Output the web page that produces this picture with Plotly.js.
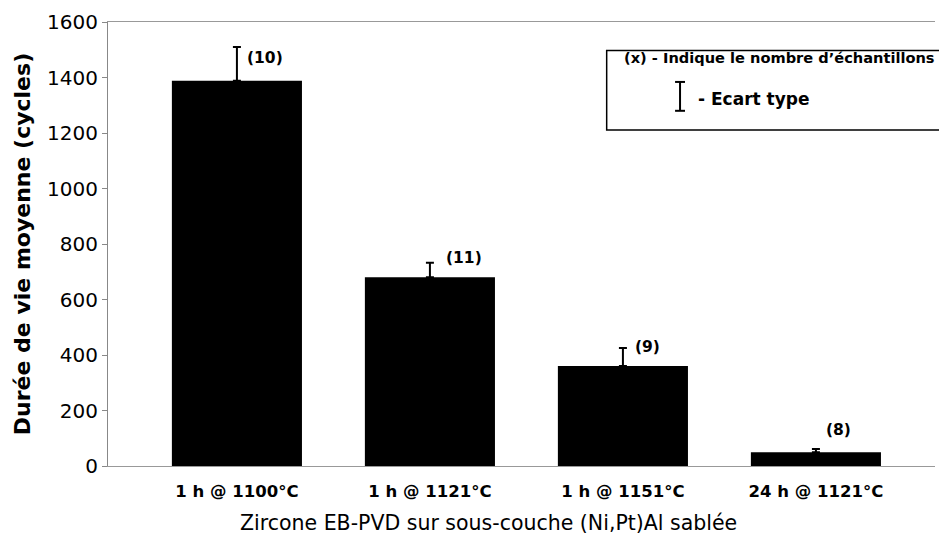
<!DOCTYPE html>
<html><head><meta charset="utf-8">
<script src="https://cdn.plot.ly/plotly-3.0.1.min.js"></script>
<style>html,body{margin:0;padding:0;background:#fff}</style>
</head><body>
<div id="chart" style="width:939px;height:543px"></div>
<script>
const categories = ["1 h @ 1100°C", "1 h @ 1121°C", "1 h @ 1151°C", "24 h @ 1121°C"];
const meanLife = [1388, 680, 360, 50];
const stdDev = [122, 52, 65, 11];
const sampleCounts = ["(10)", "(11)", "(9)", "(8)"];
const xTitle = "Zircone EB-PVD sur sous-couche (Ni,Pt)Al sablée";
const yTitle = "Durée de vie moyenne (cycles)";

const F = "DejaVu Sans, Verdana, sans-serif";
const labelShift = [[28, -11], [34, 5], [25, 1], [23, 19]];

const annotations = categories.map((c, i) => ({
  x: c, y: meanLife[i] + stdDev[i], xref: "x", yref: "y",
  text: "<b>" + sampleCounts[i] + "</b>", showarrow: false,
  xshift: labelShift[i][0], yshift: labelShift[i][1],
  yanchor: "middle", font: {family: F, size: 15.5, color: "#000"}
}));
annotations.push(
  {xref: "paper", yref: "paper", x: 0.621, y: 0.919, xanchor: "left", yanchor: "middle",
   text: "<b>(x) - Indique le nombre d’échantillons</b>", showarrow: false,
   font: {family: F, size: 14.6, color: "#000"}},
  {xref: "paper", yref: "paper", x: 0.711, y: 0.826, xanchor: "left", yanchor: "middle",
   text: "<b>- Ecart type</b>", showarrow: false,
   font: {family: F, size: 17, color: "#000"}},
  {xref: "paper", yref: "paper", x: 0.4595, y: -0.128, xanchor: "center", yanchor: "middle",
   text: xTitle, showarrow: false,
   font: {family: F, size: 20.5, color: "#000"}}
);

const shapes = [
  {type: "rect", xref: "paper", yref: "paper", x0: 0.603, x1: 1.01, y0: 0.757, y1: 0.936,
   line: {color: "#000", width: 1.5}, fillcolor: "rgba(0,0,0,0)"},
  {type: "line", xref: "paper", yref: "paper", x0: 0.6917, x1: 0.6917, y0: 0.80, y1: 0.865, line: {color: "#000", width: 2}},
  {type: "line", xref: "paper", yref: "paper", x0: 0.6857, x1: 0.6977, y0: 0.865, y1: 0.865, line: {color: "#000", width: 2}},
  {type: "line", xref: "paper", yref: "paper", x0: 0.6857, x1: 0.6977, y0: 0.80, y1: 0.80, line: {color: "#000", width: 2}}
];

const trace = {
  type: "bar", x: categories, y: meanLife, width: 0.674,
  marker: {color: "#000", line: {width: 0}},
  error_y: {type: "data", symmetric: false, array: stdDev, arrayminus: stdDev.map(() => 0),
            color: "#000", thickness: 2, width: 4}
};

const layout = {
  width: 939, height: 543,
  margin: {l: 108, r: 4, t: 22, b: 77},
  paper_bgcolor: "#fff", plot_bgcolor: "#fff",
  showlegend: false,
  xaxis: {
    type: "category", range: [-0.668, 3.617],
    showline: true, linecolor: "#999", linewidth: 1, mirror: true,
    ticks: "", showgrid: false, ticklabelstandoff: 10,
    tickfont: {family: F, size: 16.5, color: "#000", weight: "bold"}
  },
  yaxis: {
    range: [0, 1600], tickvals: [0,200,400,600,800,1000,1200,1400,1600],
    showline: true, linecolor: "#888", linewidth: 1,
    ticks: "outside", ticklen: 5, tickcolor: "#888",
    showgrid: false, zeroline: false,
    tickfont: {family: F, size: 20, color: "#000"},
    title: {text: "<b>" + yTitle + "</b>",
            font: {family: F, size: 22, color: "#000"}, standoff: 10}
  },
  annotations: annotations, shapes: shapes
};

Plotly.newPlot("chart", [trace], layout, {displayModeBar: false, staticPlot: true});
</script>
</body></html>
